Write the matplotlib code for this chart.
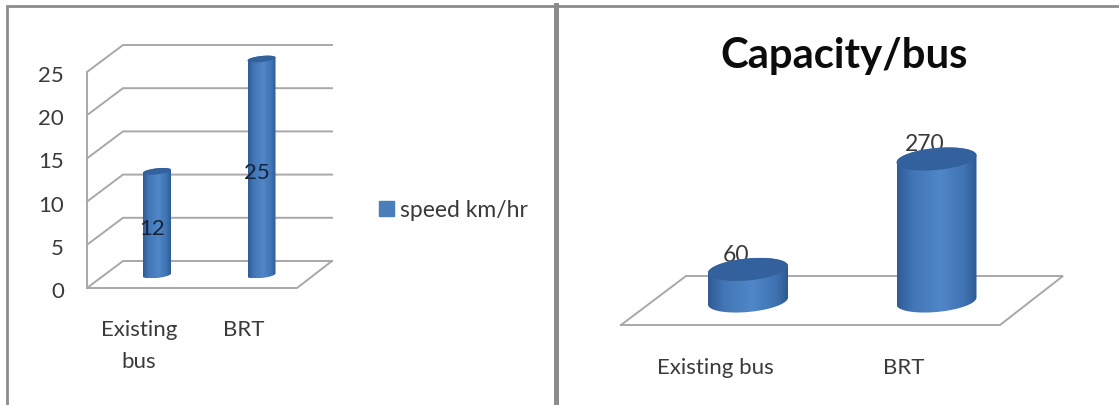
import numpy as np
import matplotlib
matplotlib.use("Agg")
import matplotlib.pyplot as plt
from matplotlib.colors import LinearSegmentedColormap
from matplotlib.patches import Patch, PathPatch, Polygon
from matplotlib.path import Path

plt.rcParams["font.family"] = ["Lato", "DejaVu Sans"]

W, H = 1119, 406
INK = "#3a3a3a"
GRID = "#a8a8a8"
BORDER = "#8c8c8c"
TOP_FACE = "#32619d"
SWATCH = "#4a7ebb"
BODY = LinearSegmentedColormap.from_list(
    "cylinder", [(0, "#2f5b96"), (0.2, "#4276b6"), (0.55, "#5087c8"), (0.85, "#3f72b1"), (1, "#2e5a94")]
)

speed_categories = ["Existing\nbus", "BRT"]
speed_values = [12, 25]
speed_ticks = [0, 5, 10, 15, 20, 25]
speed_series = "speed km/hr"

capacity_categories = ["Existing bus", "BRT"]
capacity_values = [60, 270]
capacity_title = "Capacity/bus"

fig = plt.figure(figsize=(W / 100, H / 100), dpi=100, facecolor="white")


def make_axes(x0_px, x1_px, cat0_px, cat_step_px, base_px, unit_px):
    """Full-height axes whose data scale puts category 0 at cat0_px and value 0 at base_px."""
    ax = fig.add_axes([x0_px / W, 0, (x1_px - x0_px) / W, 1])
    ax.set_xlim((x0_px - cat0_px) / cat_step_px, (x1_px - cat0_px) / cat_step_px)
    ax.set_ylim((base_px - H) / unit_px, base_px / unit_px)
    ax.axis("off")
    return ax


def cylinder(ax, x, value, half_w, half_h, tilt):
    """Draw one upright cylinder from 0 to value; sizes are given in data units."""
    t = np.linspace(0, 2 * np.pi, 121)
    ex = half_w * np.cos(t)
    ey = half_h * np.sin(t) + tilt * np.cos(t)
    lower = t >= np.pi
    upper = t <= np.pi
    body_x = np.r_[x + ex[upper], x + ex[lower]]
    body_y = np.r_[value + ey[upper], ey[lower]]
    body = PathPatch(Path(np.c_[body_x, body_y]), fc="none", ec="none", zorder=3)
    ax.add_patch(body)
    img = ax.imshow(
        np.linspace(0, 1, 256)[None, :], cmap=BODY, aspect="auto", zorder=3,
        extent=(x - half_w, x + half_w, body_y.min(), body_y.max()),
    )
    img.set_clip_path(body)
    ax.add_patch(Polygon(np.c_[x + ex, value + ey], fc=TOP_FACE, ec="none", zorder=4))


# Left chart: speed, a 3-D column chart with walls and gridlines
SX, SY = 104.5, 8.64
left = make_axes(0, 556, 157, SX, 276, SY)
back_offset = 14 / SY       # height of the back wall's zero line above the bar base
front_offset = -13 / SY     # height of the front edge below the bar base
label_drop = 3 / SY         # tick labels sit slightly under their wall lines
x_left_front = (87 - 157) / SX
x_left_back = (123 - 157) / SX
x_right_back = (332 - 157) / SX
x_right_front = (297 - 157) / SX

for tick in speed_ticks:
    left.plot([x_left_front, x_left_back, x_right_back],
              [tick + front_offset, tick + back_offset, tick + back_offset],
              color=GRID, lw=1.4, zorder=1, solid_joinstyle="miter")
    left.text((64 - 157) / SX, tick + front_offset - label_drop, str(tick), ha="right", va="center",
              fontsize=16, color=INK, zorder=6)
left.plot([x_left_front, x_left_front], [speed_ticks[0] + front_offset, speed_ticks[-1] + front_offset],
          color=GRID, lw=1.4, zorder=1)
left.plot([x_left_front, x_right_front, x_right_back],
          [front_offset, front_offset, back_offset], color=GRID, lw=1.4, zorder=1)

for i, (name, value) in enumerate(zip(speed_categories, speed_values)):
    cylinder(left, i, value, 14 / SX, 3 / SY, 1.5 / SY)
    left.text(i - 5 / SX, value / 2 - 5 / SY, str(value), ha="center", va="center",
              fontsize=16, color="#14233a", zorder=6)
    left.text(i - 18 / SX, front_offset - 31 / SY, name, ha="center", va="top",
              fontsize=16, color=INK, linespacing=1.78, zorder=6)

left.legend(handles=[Patch(color=SWATCH, label=speed_series)], frameon=False, fontsize=16.5,
            labelcolor=INK, loc="center left", bbox_to_anchor=(361 / 556, 1 - 211 / H),
            handlelength=0.62, handleheight=0.62, handletextpad=0.3, borderpad=0.3)

# Right chart: capacity, a 3-D column chart with a floor and no walls
CX, CY = 188.5, 0.526
right = make_axes(558, W, 748, CX, 302, CY)
front = (302 - 326) / CY
back = (302 - 277) / CY
floor_x = [(x - 748) / CX for x in (621, 1000, 1063, 686, 621)]
floor_y = [front, front, back, back, front]
right.plot(floor_x, floor_y, color=GRID, lw=1.4, zorder=1, solid_joinstyle="miter")

for i, (name, value) in enumerate(zip(capacity_categories, capacity_values)):
    cylinder(right, i, value, 40 / CX, 11 / CY, 3.5 / CY)
    right.text(i - 12 / CX, value + 15 / CY, str(value), ha="center", va="center",
               fontsize=16.5, color=INK, zorder=2)
    right.text(i - 33 / CX, front - 42 / CY, name, ha="center", va="center",
               fontsize=16, color=INK, zorder=6)

fig.text(844 / W, 1 - 56 / H, capacity_title, ha="center", va="center",
         fontsize=30.2, fontweight="bold", color="#0c0c0c")

# Panel frames around both charts
for xs, ys, lw in [
    ([7, 7, 554], [H, 7, 7], 2.0),
    ([558, W], [7, 7], 2.0),
    ([556, 556], [6, H], 3.6),
]:
    fig.add_artist(plt.Line2D([x / W for x in xs], [1 - y / H for y in ys],
                              color=BORDER, lw=lw, solid_joinstyle="miter"))

fig.savefig("out.png", dpi=100, facecolor="white")
